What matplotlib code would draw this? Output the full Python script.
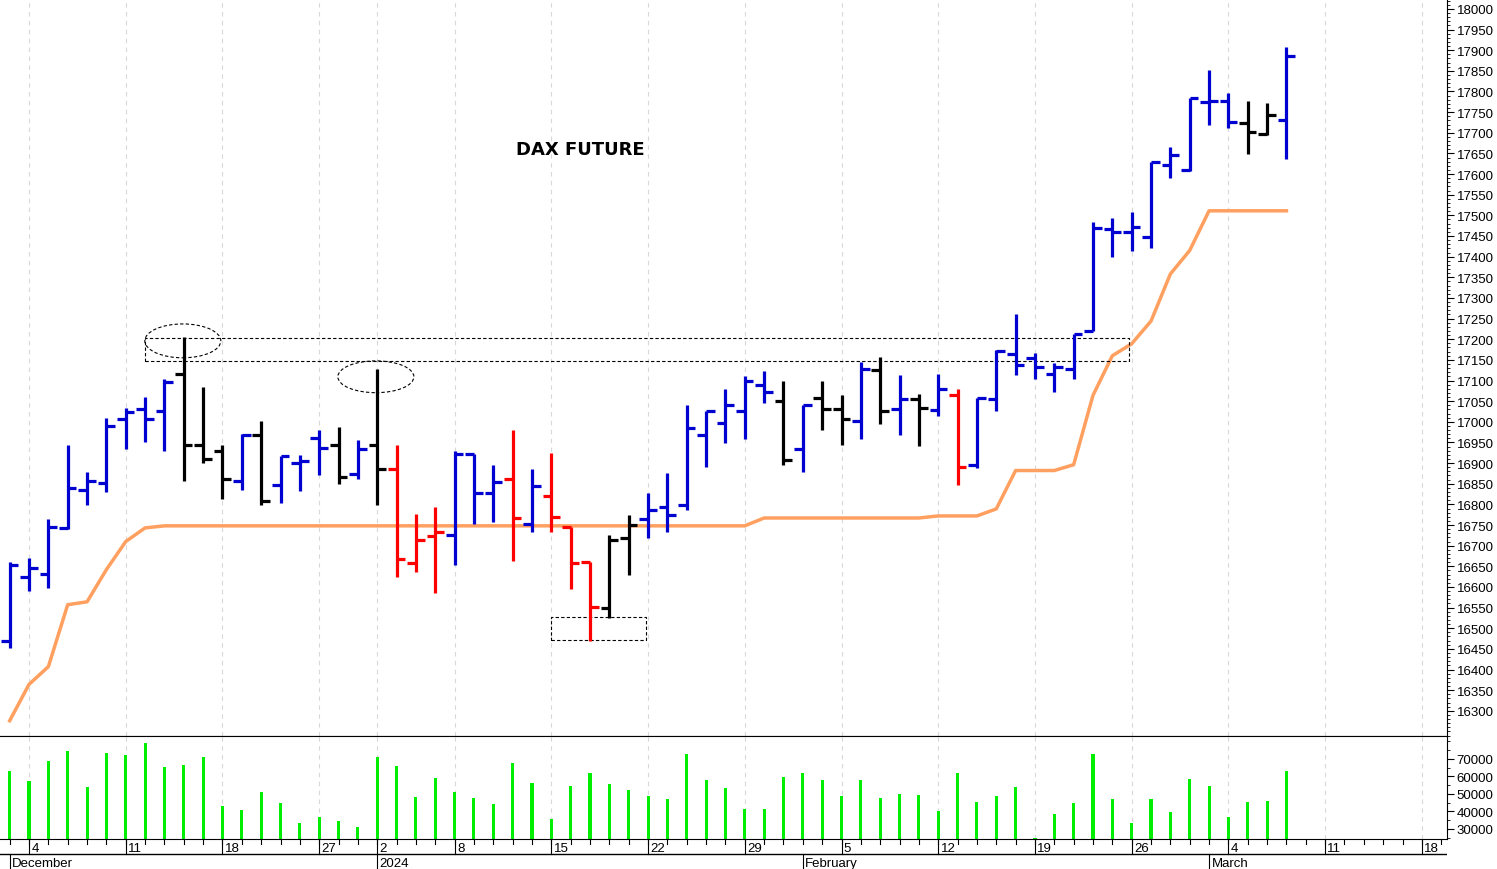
import numpy as np
import matplotlib.pyplot as plt
from matplotlib.patches import Rectangle, Ellipse
from matplotlib.ticker import MultipleLocator

plt.rcParams['font.family'] = ['Liberation Sans', 'DejaVu Sans']
plt.rcParams['axes.axisbelow'] = True

# ---- data (trading days Dec 1 2023 .. Mar 7 2024) ----
opens = [16468, 16624, 16632, 16743, 16834, 16852, 17007, 17031, 17025, 17116,
         16943, 16929, 16857, 16968, 16848, 16900, 16961, 16944, 16874, 16944,
         16886, 16659, 16724, 16727, 16921, 16828, 16862, 16753, 16821, 16746,
         16660, 16549, 16719, 16765, 16794, 16799, 16969, 16998, 17026, 17090,
         17051, 16935, 17058, 17032, 17001, 17126, 17032, 17056, 17029, 17065,
         16896, 17056, 17164, 17154, 17116, 17128, 17221, 17467, 17459, 17447,
         17622, 17609, 17774, 17776, 17724, 17697, 17730]
highs = [16661, 16671, 16765, 16943, 16879, 17010, 17034, 17060, 17104, 17206,
         17085, 16943, 16971, 17003, 16918, 16920, 16979, 16988, 16957, 17127,
         16943, 16777, 16794, 16929, 16921, 16896, 16979, 16885, 16925, 16746,
         16661, 16726, 16774, 16828, 16876, 17041, 17027, 17080, 17112, 17124,
         17098, 17041, 17100, 17064, 17146, 17157, 17114, 17068, 17116, 17080,
         17058, 17174, 17262, 17166, 17143, 17213, 17484, 17493, 17508, 17629,
         17665, 17784, 17851, 17797, 17778, 17772, 17907]
lows = [16451, 16591, 16598, 16741, 16799, 16831, 16935, 16952, 16930, 16857,
        16901, 16814, 16836, 16798, 16804, 16833, 16872, 16850, 16862, 16799,
        16624, 16637, 16586, 16654, 16753, 16758, 16664, 16734, 16734, 16594,
        16468, 16526, 16629, 16719, 16734, 16787, 16890, 16949, 16959, 17046,
        16895, 16879, 16979, 16944, 16959, 16995, 16969, 16941, 17014, 16848,
        16888, 17025, 17114, 17104, 17073, 17104, 17221, 17399, 17413, 17421,
        17590, 17607, 17718, 17712, 17649, 17695, 17637]
closes = [16652, 16647, 16746, 16840, 16856, 16990, 17024, 17007, 17097, 16943,
          16911, 16862, 16967, 16809, 16918, 16906, 16937, 16867, 16935, 16886,
          16668, 16713, 16734, 16921, 16828, 16855, 16768, 16845, 16770, 16659,
          16552, 16713, 16751, 16787, 16774, 16985, 17027, 17041, 17098, 17072,
          16908, 17040, 17030, 17006, 17128, 17027, 17056, 17034, 17080, 16891,
          17058, 17171, 17138, 17133, 17132, 17213, 17469, 17459, 17471, 17629,
          17645, 17784, 17776, 17726, 17703, 17743, 17887]
bar_colors = (['b'] * 9 + ['k', 'k', 'k', 'b', 'k', 'b', 'b', 'b', 'k', 'b', 'k']
              + ['r', 'r', 'r', 'b', 'b', 'b', 'r', 'b', 'r', 'r', 'r', 'k', 'k']
              + ['b'] * 7 + ['k', 'b', 'k', 'k', 'b', 'k', 'b', 'k', 'b', 'r']
              + ['b'] * 14 + ['k', 'k', 'b'])
stop_line = [16276, 16364, 16407, 16557, 16564, 16642, 16710, 16743, 16748, 16748,
             16748, 16748, 16748, 16748, 16748, 16748, 16748, 16748, 16748, 16748,
             16748, 16748, 16748, 16748, 16748, 16748, 16748, 16748, 16748, 16748,
             16748, 16748, 16748, 16748, 16748, 16748, 16748, 16748, 16748, 16767,
             16767, 16767, 16767, 16767, 16767, 16767, 16767, 16767, 16772, 16772,
             16772, 16789, 16882, 16882, 16882, 16896, 17064, 17160, 17189, 17244,
             17358, 17415, 17511, 17511, 17511, 17511, 17511]
volumes = [63300, 57400, 68500, 74600, 54000, 73400, 72300, 79100, 65600, 66600,
           71100, 43300, 40900, 51300, 44900, 33400, 36900, 34600, 31300,
           71100, 66000, 48300, 59100, 51100, 47700, 44500, 67700, 56300, 35700,
           54700, 62000, 55700, 52300, 48900, 47300, 72900, 58200, 53400, 41400,
           41400, 59900,
           62000, 58000, 49000, 58000, 47700, 50000, 49400, 40300, 61800, 45400,
           48900, 54000, 24800, 38400, 44800, 72900, 47100, 33400, 47100, 39700,
           58600,
           54700, 36900, 45600, 46000, 63100]

# weekly labels (index of trading day, label) and month starts
week_idx = [1, 6, 11, 16, 19, 23, 28, 33, 38, 43, 48, 53, 58, 63, 68, 73]
week_lbl = ['4', '11', '18', '27', '2', '8', '15', '22', '29', '5', '12', '19',
            '26', '4', '11', '18']
month_idx = [0, 19, 41, 62]
month_lbl = ['December', '2024', 'February', 'March']

colmap = {'b': '#0000d0', 'k': 'black', 'r': '#ff0000'}
x = np.arange(len(opens))
XL = (-0.5, 74.3)

fig = plt.figure(figsize=(14.97, 8.70), dpi=100)
ax = fig.add_axes([0, 133 / 870, 1447 / 1497, 737 / 870])
axv = fig.add_axes([0, 30 / 870, 1447 / 1497, 103 / 870])
axd = fig.add_axes([0, 0, 1447 / 1497, 30 / 870])

# price panel
for i in x:
    c = colmap[bar_colors[i]]
    ax.plot([i, i], [lows[i], highs[i]], color=c, lw=2.3, solid_capstyle='butt')
    ax.plot([i - 0.45, i], [opens[i], opens[i]], color=c, lw=2.3, solid_capstyle='butt')
    ax.plot([i, i + 0.45], [closes[i], closes[i]], color=c, lw=2.3, solid_capstyle='butt')
ax.plot(x, stop_line, color='#ffa060', lw=2.5, zorder=1)

ax.add_patch(Rectangle((6.98, 17148), 50.9, 55, fill=False, ls=(0, (3, 2)), lw=0.8, ec='black'))
ax.add_patch(Rectangle((28.0, 16472), 4.9, 56, fill=False, ls=(0, (3, 2)), lw=0.8, ec='black'))
ax.add_patch(Ellipse((8.95, 17196), 3.93, 82, fill=False, ls=(0, (3, 2)), lw=0.8, ec='black'))
ax.add_patch(Ellipse((18.93, 17109), 3.93, 77, fill=False, ls=(0, (3, 2)), lw=0.8, ec='black'))
ax.text(29.5, 17660, 'DAX FUTURE', fontsize=13, fontweight='bold',
        family='DejaVu Sans', ha='center', va='center')

ax.set_xlim(*XL)
ax.set_ylim(16239, 18024)
ax.yaxis.tick_right()
ax.set_yticks(np.arange(16300, 18001, 50))
ax.yaxis.set_minor_locator(MultipleLocator(10))
ax.tick_params(axis='y', which='major', length=5, labelsize=9.5, pad=2)
ax.tick_params(axis='y', which='minor', length=2.5)
ax.set_xticks(week_idx)
ax.tick_params(axis='x', length=0, labelbottom=False)
ax.grid(axis='x', color='#d8d8d8', ls=(0, (4, 4)), lw=0.8)
for s in ['top', 'left']:
    ax.spines[s].set_visible(False)

# volume panel
axv.bar(x, volumes, width=0.16, color='#00ee00')
axv.set_xlim(*XL)
axv.set_ylim(24300, 83000)
axv.yaxis.tick_right()
axv.set_yticks([30000, 40000, 50000, 60000, 70000])
axv.yaxis.set_minor_locator(MultipleLocator(5000))
axv.tick_params(axis='y', which='major', length=5, labelsize=9.5, pad=2)
axv.tick_params(axis='y', which='minor', length=2.5)
axv.set_xticks(week_idx)
axv.tick_params(axis='x', length=0, labelbottom=False)
axv.grid(axis='x', color='#d8d8d8', ls=(0, (4, 4)), lw=0.8)
axv.spines['left'].set_visible(False)

# date strip
axd.set_xlim(*XL)
axd.set_ylim(0, 30)
axd.axis('off')
axd.axhline(15, color='black', lw=1)
for i in range(int(XL[1]) + 1):
    axd.plot([i, i], [30, 25], color='black', lw=0.8)
for i, t in zip(week_idx, week_lbl):
    axd.plot([i, i], [30, 15], color='black', lw=0.8)
    axd.text(i + 0.12, 21, t, fontsize=9.5, va='center', ha='left')
for i, t in zip(month_idx, month_lbl):
    axd.plot([i, i], [15, 0], color='black', lw=0.8)
    axd.text(i + 0.12, 5.5, t, fontsize=9.5, va='center', ha='left')

fig.savefig('out.png', dpi=100)
